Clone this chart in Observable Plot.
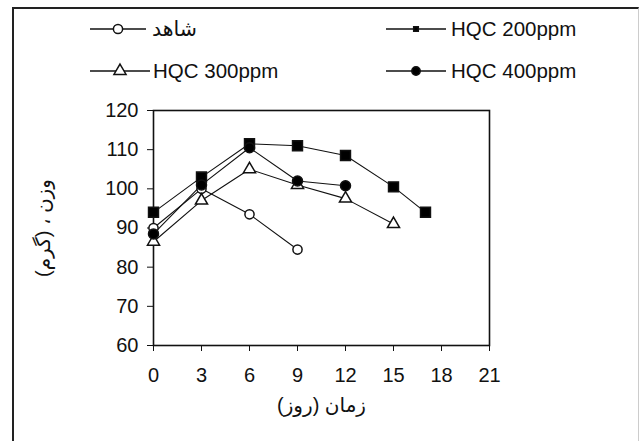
<!DOCTYPE html>
<html>
<head>
<meta charset="utf-8">
<script src="https://cdn.jsdelivr.net/npm/d3@7"></script>
<script src="https://cdn.jsdelivr.net/npm/@observablehq/plot@0.6"></script>
<style>
  html, body { margin: 0; padding: 0; background: #fff; }
  #wrap { position: relative; width: 641px; height: 441px; overflow: hidden; font-family: "Liberation Sans", "DejaVu Sans", sans-serif; }
  #border { position: absolute; left: 12px; top: 7px; width: 624px; height: 460px; border-left: 2px solid #222; border-top: 2px solid #222; border-right: 1px solid #ccc; }
  #legend { position: absolute; left: 0; top: 0; width: 641px; height: 100px; }
  #chart { position: absolute; left: 0; top: 0; }
</style>
</head>
<body>
<div id="wrap">
  <div id="border"></div>
  <div id="chart"></div>
  <svg id="legend" width="641" height="100"></svg>
</div>
<script>
const seriesNames = ["شاهد", "HQC 200ppm", "HQC 300ppm", "HQC 400ppm"];
const controlDays = [0, 3, 6, 9];
const controlValues = [90, 100, 93.5, 84.5];
const hqc200Days = [0, 3, 6, 9, 12, 15, 17];
const hqc200Values = [94, 103, 111.5, 111, 108.5, 100.5, 94];
const hqc300Days = [0, 3, 6, 9, 12, 15];
const hqc300Values = [86.5, 97, 105, 101, 97.5, 91];
const hqc400Days = [0, 3, 6, 9, 12];
const hqc400Values = [88.5, 101, 110.5, 102, 100.8];
const xTicks = [0, 3, 6, 9, 12, 15, 18, 21];
const yTicks = [60, 70, 80, 90, 100, 110, 120];
const xLabel = "زمان (روز)";
const yLabel = "وزن ، (گرم)";

const styles = {
  "شاهد": {symbol: "circle", fill: "white", r: 4.6},
  "HQC 200ppm": {symbol: "square", fill: "black", r: 5.6},
  "HQC 300ppm": {symbol: "triangle", fill: "white", r: 4.5},
  "HQC 400ppm": {symbol: "circle", fill: "black", r: 5}
};
const legendSizes = {"شاهد": 4.6, "HQC 200ppm": 2.6, "HQC 300ppm": 4.5, "HQC 400ppm": 4.2};

const build = (name, days, vals) => days.map((d, i) => ({series: name, day: d, value: vals[i]}));
const groups = [
  build(seriesNames[0], controlDays, controlValues),
  build(seriesNames[1], hqc200Days, hqc200Values),
  build(seriesNames[2], hqc300Days, hqc300Values),
  build(seriesNames[3], hqc400Days, hqc400Values)
];

const font = "'Liberation Sans', 'DejaVu Sans', sans-serif";
const marks = [
  Plot.frame({stroke: "#111", strokeWidth: 1.6}),
  Plot.axisX({ticks: xTicks, tickSize: 6, tickPadding: 16, fontSize: 20, label: xLabel, labelAnchor: "center", labelArrow: "none", labelOffset: 66}),
  Plot.axisY({ticks: yTicks, tickSize: 6, tickPadding: 9, fontSize: 20, label: yLabel, labelAnchor: "center", labelArrow: "none", labelOffset: 118})
];
groups.forEach(g => {
  marks.push(Plot.line(g, {x: "day", y: "value", stroke: "#111", strokeWidth: 1.1}));
});
groups.forEach(g => {
  const s = styles[g[0].series];
  marks.push(Plot.dot(g, {x: "day", y: "value", symbol: () => s.symbol, r: s.r, fill: s.fill, stroke: "#111", strokeWidth: 1.5}));
});

const chart = Plot.plot({
  width: 641,
  height: 441,
  marginLeft: 153,
  marginRight: 152,
  marginTop: 110,
  marginBottom: 96,
  style: {fontFamily: font, fontSize: "16px", color: "#111", background: "transparent"},
  x: {domain: [0, 21]},
  y: {domain: [60, 120]},
  marks
});
document.getElementById("chart").appendChild(chart);

// legend
const leg = d3.select("#legend");
const legendItems = [
  {name: seriesNames[0], x0: 90, x1: 146, tx: 152, y: 29},
  {name: seriesNames[1], x0: 386, x1: 446, tx: 451, y: 29},
  {name: seriesNames[2], x0: 90, x1: 150, tx: 153, y: 71},
  {name: seriesNames[3], x0: 386, x1: 446, tx: 451, y: 71}
];
legendItems.forEach(it => {
  const s = styles[it.name];
  const r = legendSizes[it.name];
  const g = leg.append("g");
  g.append("line").attr("x1", it.x0).attr("x2", it.x1).attr("y1", it.y).attr("y2", it.y).attr("stroke", "#111").attr("stroke-width", 1.5);
  const size = Math.PI * r * r;
  const sym = s.symbol === "square" ? d3.symbolSquare : s.symbol === "triangle" ? d3.symbolTriangle : d3.symbolCircle;
  g.append("path").attr("d", d3.symbol(sym, size)()).attr("transform", `translate(${(it.x0 + it.x1) / 2},${it.y})`).attr("fill", s.fill).attr("stroke", "#111").attr("stroke-width", 1.5);
  g.append("text").attr("x", it.tx).attr("y", it.y).attr("dy", "0.35em").attr("font-size", 20.5).attr("fill", "#111").attr("font-family", font).text(it.name);
});
</script>
</body>
</html>
